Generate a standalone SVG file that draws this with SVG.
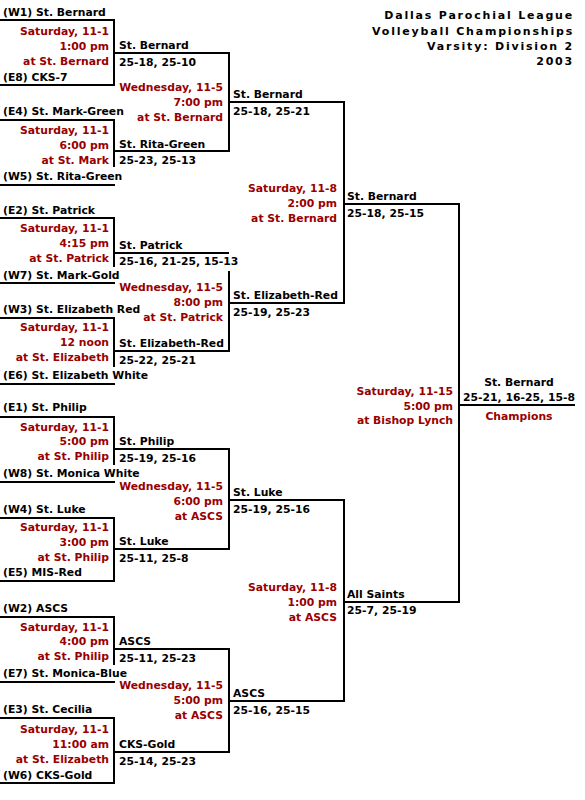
<svg xmlns="http://www.w3.org/2000/svg" width="585" height="800" viewBox="0 0 585 800">
<style>
text{font-family:"DejaVu Sans",Verdana,"Liberation Sans",sans-serif;font-size:10.8px;font-weight:bold;fill:#000}
.r{fill:#990000;text-anchor:end}
.c{text-anchor:middle}
.title{text-anchor:end;letter-spacing:1.8px;font-size:11px}
.ln{fill:none;stroke:#000;stroke-width:2;stroke-linejoin:miter;stroke-linecap:butt}
</style>
<rect width="585" height="800" fill="#fff"/>
<g id="title">
<text class="title" x="574" y="19">Dallas Parochial League</text>
<text class="title" x="574" y="35">Volleyball Championships</text>
<text class="title" x="574" y="50">Varsity: Division 2</text>
<text class="title" x="574" y="65">2003</text>
</g>
<g id="connectors" class="ln">
<path d="M0,20H114V85H0M114,53H229V151H114"/>
<path d="M0,120H114V167M0,185H115"/>
<path d="M0,218H114V267M0,283H115M114,253H229M229,271V351H114"/>
<path d="M0,318H114V367M0,384H115"/>
<path d="M0,417H114V465M0,482H115M114,449H229V549H114"/>
<path d="M0,518H114V581H0"/>
<path d="M0,617H114V665M0,682H115M114,649H229V752H114"/>
<path d="M0,718H114V783H0"/>
<path d="M229,102H344V303H229M229,500H344V701H229"/>
<path d="M344,204H459V602H344M459,405H575"/>
</g>
<g id="m1">
<text x="3" y="16">(W1) St. Bernard</text>
<text class="r" x="109" y="35">Saturday, 11-1</text>
<text class="r" x="109" y="50">1:00 pm</text>
<text class="r" x="109" y="65">at St. Bernard</text>
<text x="3" y="81">(E8) CKS-7</text>
</g>
<g id="m2">
<text x="3" y="115">(E4) St. Mark-Green</text>
<text class="r" x="109" y="134">Saturday, 11-1</text>
<text class="r" x="109" y="149">6:00 pm</text>
<text class="r" x="109" y="164">at St. Mark</text>
<text x="3" y="180">(W5) St. Rita-Green</text>
</g>
<g id="m3">
<text x="3" y="214">(E2) St. Patrick</text>
<text class="r" x="109" y="232">Saturday, 11-1</text>
<text class="r" x="109" y="247">4:15 pm</text>
<text class="r" x="109" y="262">at St. Patrick</text>
<text x="3" y="279">(W7) St. Mark-Gold</text>
</g>
<g id="m4">
<text x="3" y="313">(W3) St. Elizabeth Red</text>
<text class="r" x="109" y="331">Saturday, 11-1</text>
<text class="r" x="109" y="346">12 noon</text>
<text class="r" x="109" y="361">at St. Elizabeth</text>
<text x="3" y="379">(E6) St. Elizabeth White</text>
</g>
<g id="m5">
<text x="3" y="411">(E1) St. Philip</text>
<text class="r" x="109" y="431">Saturday, 11-1</text>
<text class="r" x="109" y="445">5:00 pm</text>
<text class="r" x="109" y="460">at St. Philip</text>
<text x="3" y="477">(W8) St. Monica White</text>
</g>
<g id="m6">
<text x="3" y="513">(W4) St. Luke</text>
<text class="r" x="109" y="531">Saturday, 11-1</text>
<text class="r" x="109" y="546">3:00 pm</text>
<text class="r" x="109" y="561">at St. Philip</text>
<text x="3" y="576">(E5) MIS-Red</text>
</g>
<g id="m7">
<text x="3" y="612">(W2) ASCS</text>
<text class="r" x="109" y="631">Saturday, 11-1</text>
<text class="r" x="109" y="645">4:00 pm</text>
<text class="r" x="109" y="660">at St. Philip</text>
<text x="3" y="677">(E7) St. Monica-Blue</text>
</g>
<g id="m8">
<text x="3" y="713">(E3) St. Cecilia</text>
<text class="r" x="109" y="733">Saturday, 11-1</text>
<text class="r" x="109" y="748">11:00 am</text>
<text class="r" x="109" y="763">at St. Elizabeth</text>
<text x="3" y="779">(W6) CKS-Gold</text>
</g>
<g id="r2-top1">
<text x="119" y="49">St. Bernard</text>
<text x="119" y="66">25-18, 25-10</text>
<text class="r" x="223" y="91">Wednesday, 11-5</text>
<text class="r" x="223" y="106">7:00 pm</text>
<text class="r" x="223" y="121">at St. Bernard</text>
<text x="119" y="148">St. Rita-Green</text>
<text x="119" y="164">25-23, 25-13</text>
</g>
<g id="r2-top2">
<text x="119" y="249">St. Patrick</text>
<text x="119" y="265">25-16, 21-25, 15-13</text>
<text class="r" x="223" y="291">Wednesday, 11-5</text>
<text class="r" x="223" y="306">8:00 pm</text>
<text class="r" x="223" y="321">at St. Patrick</text>
<text x="119" y="347">St. Elizabeth-Red</text>
<text x="119" y="364">25-22, 25-21</text>
</g>
<g id="r2-bot1">
<text x="119" y="445">St. Philip</text>
<text x="119" y="462">25-19, 25-16</text>
<text class="r" x="223" y="490">Wednesday, 11-5</text>
<text class="r" x="223" y="505">6:00 pm</text>
<text class="r" x="223" y="520">at ASCS</text>
<text x="119" y="545">St. Luke</text>
<text x="119" y="562">25-11, 25-8</text>
</g>
<g id="r2-bot2">
<text x="119" y="645">ASCS</text>
<text x="119" y="662">25-11, 25-23</text>
<text class="r" x="223" y="689">Wednesday, 11-5</text>
<text class="r" x="223" y="704">5:00 pm</text>
<text class="r" x="223" y="719">at ASCS</text>
<text x="119" y="748">CKS-Gold</text>
<text x="119" y="765">25-14, 25-23</text>
</g>
<g id="r3-top">
<text x="233" y="98">St. Bernard</text>
<text x="233" y="115">25-18, 25-21</text>
<text class="r" x="337" y="192">Saturday, 11-8</text>
<text class="r" x="337" y="207">2:00 pm</text>
<text class="r" x="337" y="222">at St. Bernard</text>
<text x="233" y="299">St. Elizabeth-Red</text>
<text x="233" y="316">25-19, 25-23</text>
</g>
<g id="r3-bot">
<text x="233" y="496">St. Luke</text>
<text x="233" y="513">25-19, 25-16</text>
<text class="r" x="337" y="591">Saturday, 11-8</text>
<text class="r" x="337" y="606">1:00 pm</text>
<text class="r" x="337" y="621">at ASCS</text>
<text x="233" y="697">ASCS</text>
<text x="233" y="714">25-16, 25-15</text>
</g>
<g id="final">
<text x="347" y="200">St. Bernard</text>
<text x="347" y="217">25-18, 25-15</text>
<text class="r" x="453" y="395">Saturday, 11-15</text>
<text class="r" x="453" y="410">5:00 pm</text>
<text class="r" x="453" y="424">at Bishop Lynch</text>
<text x="347" y="598">All Saints</text>
<text x="347" y="614">25-7, 25-19</text>
</g>
<g id="champion">
<text class="c" x="519" y="386">St. Bernard</text>
<text class="c" x="519" y="401">25-21, 16-25, 15-8</text>
<text class="c" x="519" y="420" style="fill:#990000">Champions</text>
</g>
</svg>
